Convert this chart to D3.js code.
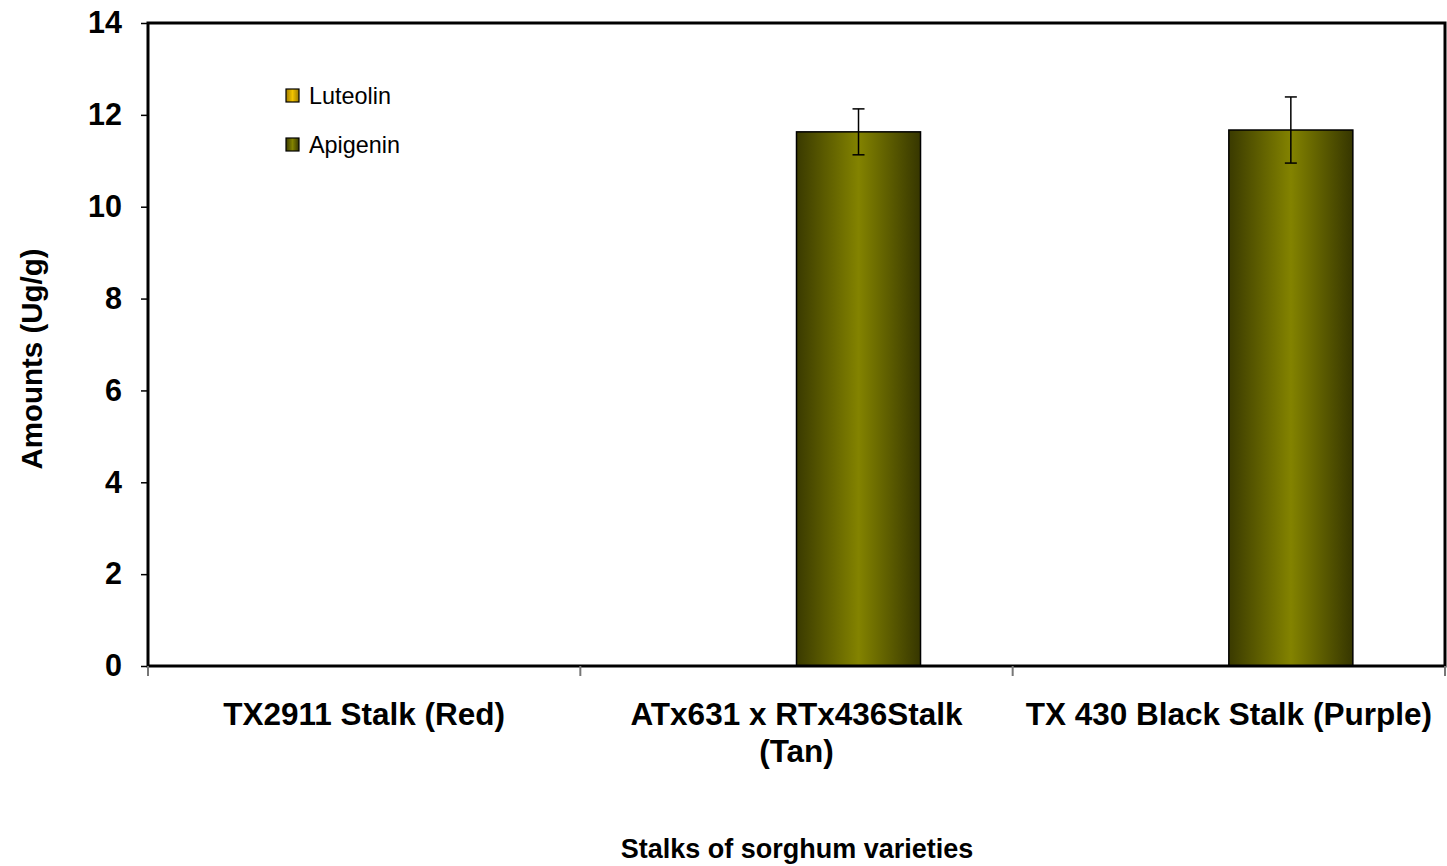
<!DOCTYPE html>
<html>
<head>
<meta charset="utf-8">
<script src="https://cdn.jsdelivr.net/npm/d3@7"></script>
<style>
  html, body { margin: 0; padding: 0; background: #fff; }
  svg { display: block; font-family: "Liberation Sans", Arial, sans-serif; }
</style>
</head>
<body>
<svg id="chart" width="1447" height="866"></svg>
<script>
// Flavonoid content in sorghum stalks
const categories = [["TX2911 Stalk (Red)"], ["ATx631 x RTx436Stalk", "(Tan)"], ["TX 430 Black Stalk (Purple)"]];
const seriesNames = ["Luteolin", "Apigenin"];
const luteolin = [0, 0, 0];
const apigenin = [0, 11.63, 11.67];
const apigeninErr = [0, 0.5, 0.72];
const yTicks = [0, 2, 4, 6, 8, 10, 12, 14];

const svg = d3.select("#chart");
const m = { left: 148, top: 23, right: 1445, bottom: 666 };

const defs = svg.append("defs");
function hGrad(id, stops) {
  const g = defs.append("linearGradient").attr("id", id)
    .attr("x1", "0%").attr("x2", "100%").attr("y1", "0%").attr("y2", "0%");
  stops.forEach(([o, c]) => g.append("stop").attr("offset", o).attr("stop-color", c));
}
hGrad("gApi", [["0%", "#3a3a00"], ["50%", "#838300"], ["100%", "#363600"]]);
hGrad("gLut", [["0%", "#a07c00"], ["50%", "#f2c400"], ["100%", "#9c7a00"]]);

const x0 = d3.scaleBand().domain(d3.range(categories.length)).range([m.left, m.right]).paddingInner(0).paddingOuter(0);
const x1 = d3.scaleBand().domain(seriesNames).range([0, x0.bandwidth()]).paddingInner(0).paddingOuter(0.743);
const y = d3.scaleLinear().domain([0, 14]).range([m.bottom, m.top]);

const data = seriesNames.map((s, si) => ({
  name: s,
  fill: si === 0 ? "url(#gLut)" : "url(#gApi)",
  values: si === 0 ? luteolin : apigenin,
  err: si === 0 ? null : apigeninErr
}));

// bars
data.forEach(s => {
  svg.append("g").selectAll("rect")
    .data(s.values.map((v, i) => ({ v, i })).filter(d => d.v > 0))
    .join("rect")
    .attr("x", d => x0(d.i) + x1(s.name))
    .attr("width", x1.bandwidth())
    .attr("y", d => y(d.v))
    .attr("height", d => y(0) - y(d.v))
    .attr("fill", s.fill)
    .attr("stroke", "#000")
    .attr("stroke-width", 1.5);

  if (s.err) {
    const eg = svg.append("g").attr("stroke", "#000").attr("stroke-width", 1.5);
    s.values.forEach((v, i) => {
      const e = s.err[i];
      if (!(v > 0) || !e) return;
      const cx = x0(i) + x1(s.name) + x1.bandwidth() / 2;
      eg.append("line").attr("x1", cx).attr("x2", cx).attr("y1", y(v + e)).attr("y2", y(v - e));
      eg.append("line").attr("x1", cx - 6).attr("x2", cx + 6).attr("y1", y(v + e)).attr("y2", y(v + e));
      eg.append("line").attr("x1", cx - 6).attr("x2", cx + 6).attr("y1", y(v - e)).attr("y2", y(v - e));
    });
  }
});

// frame
svg.append("rect").attr("x", m.left).attr("y", m.top)
  .attr("width", m.right - m.left).attr("height", m.bottom - m.top)
  .attr("fill", "none").attr("stroke", "#000").attr("stroke-width", 3);

// y axis
const yAxis = svg.append("g").attr("transform", `translate(${m.left},0)`)
  .call(d3.axisLeft(y).tickValues(yTicks).tickSize(7).tickPadding(19).tickFormat(d3.format("d")));
yAxis.select(".domain").remove();
yAxis.selectAll(".tick line").attr("stroke", "#000").attr("stroke-width", 1.5);
yAxis.selectAll(".tick text").attr("font-size", 30.5).attr("font-weight", "bold").attr("fill", "#000")
  .attr("font-family", "'Liberation Sans', Arial, sans-serif");

// x category ticks at band boundaries
const bounds = d3.range(categories.length + 1).map(i => i < categories.length ? x0(i) : m.right);
svg.append("g").selectAll("line").data(bounds).join("line")
  .attr("x1", d => d).attr("x2", d => d)
  .attr("y1", m.bottom).attr("y2", m.bottom + 10)
  .attr("stroke", "#777").attr("stroke-width", 2);

// x category labels
const xl = svg.append("g");
categories.forEach((lines, i) => {
  const t = xl.append("text")
    .attr("x", x0(i) + x0.bandwidth() / 2)
    .attr("y", 725)
    .attr("text-anchor", "middle")
    .attr("font-size", 31.5).attr("font-weight", "bold");
  lines.forEach((ln, k) => t.append("tspan")
    .attr("x", x0(i) + x0.bandwidth() / 2)
    .attr("dy", k === 0 ? 0 : 37)
    .text(ln));
});

// axis titles
svg.append("text")
  .attr("transform", `translate(42,359) rotate(-90)`)
  .attr("text-anchor", "middle")
  .attr("font-size", 29.5).attr("font-weight", "bold")
  .text("Amounts (Ug/g)");

svg.append("text")
  .attr("x", 797).attr("y", 858)
  .attr("text-anchor", "middle")
  .attr("font-size", 27).attr("font-weight", "bold")
  .text("Stalks of sorghum varieties");

// legend
const lg = svg.append("g").attr("transform", "translate(286,89)");
data.forEach((s, i) => {
  const row = lg.append("g").attr("transform", `translate(0,${i * 49})`);
  row.append("rect").attr("width", 13).attr("height", 13)
    .attr("fill", s.fill).attr("stroke", "#000").attr("stroke-width", 1.2);
  row.append("text").attr("x", 23).attr("y", 15)
    .attr("font-size", 23.4).text(s.name);
});
</script>
</body>
</html>
